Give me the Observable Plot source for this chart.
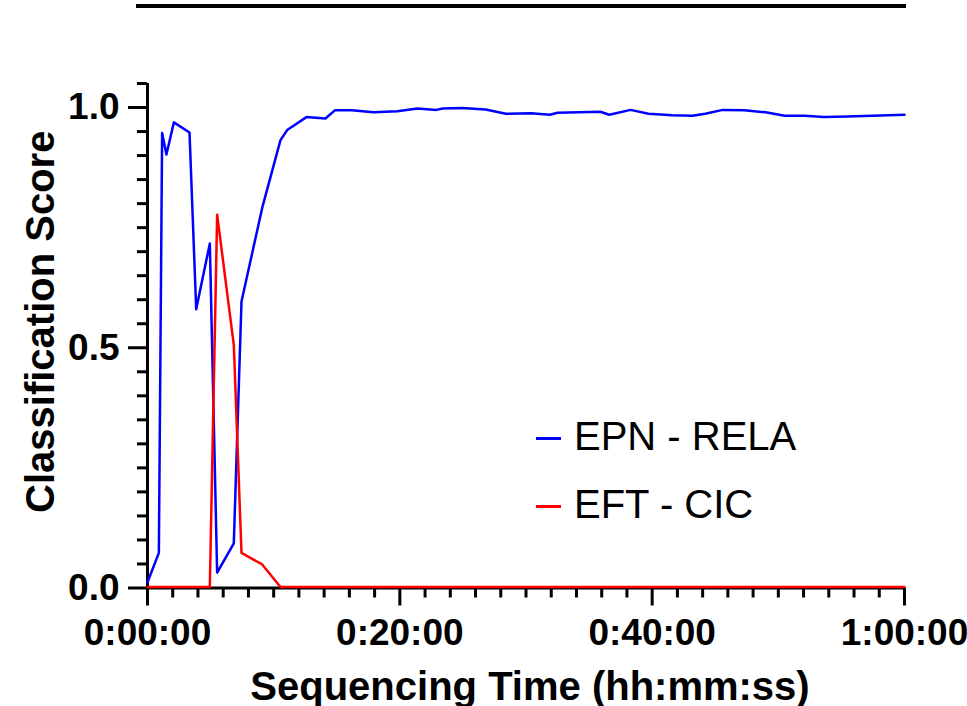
<!DOCTYPE html>
<html>
<head>
<meta charset="utf-8">
<script src="https://cdn.jsdelivr.net/npm/d3@7"></script>
<script src="https://cdn.jsdelivr.net/npm/@observablehq/plot@0.6"></script>
<style>
  body { margin: 0; background: white; }
  #wrap { position: relative; width: 967px; height: 706px; overflow: hidden; }
  #topline { position: absolute; left: 136px; top: 4px; width: 770px; height: 4px; background: black; }
  .leg { position: absolute; font-family: 'Liberation Sans', Arial, sans-serif; font-size: 40px; color: black; line-height: 1; white-space: nowrap; }
  .sw { position: absolute; width: 25px; height: 2.5px; }
</style>
</head>
<body>
<div id="wrap">
  <div id="chart"></div>
  <div id="topline"></div>
  <div id="legend"></div>
</div>
<script>
// Sequencing time in minutes
const times = [0, 0.9, 1.16, 1.5, 2.09, 3.33, 3.86, 4.94, 5.52, 6.84, 7.45, 9.09, 10.54, 11.07, 12.6, 14.1, 14.85, 16.2, 17.9, 19.8, 21.4, 22.9, 23.4, 24.94, 26.8, 28.4, 30.4, 31.9, 32.5, 35.9, 36.6, 38.3, 39.7, 41.6, 43.2, 44.2, 45.6, 47.3, 49.0, 50.5, 52.1, 53.6, 55.5, 60];
const epnRela = [0.01, 0.071, 0.945, 0.90, 0.967, 0.946, 0.578, 0.715, 0.030, 0.091, 0.594, 0.789, 0.930, 0.951, 0.978, 0.975, 0.992, 0.992, 0.988, 0.990, 0.996, 0.993, 0.996, 0.997, 0.994, 0.985, 0.986, 0.983, 0.987, 0.989, 0.983, 0.993, 0.985, 0.982, 0.981, 0.985, 0.993, 0.992, 0.988, 0.981, 0.981, 0.978, 0.979, 0.983];
const eftCic = [0, 0, 0, 0, 0, 0, 0, 0, 0.775, 0.504, 0.071, 0.047, 0, 0, 0, 0, 0, 0, 0, 0, 0, 0, 0, 0, 0, 0, 0, 0, 0, 0, 0, 0, 0, 0, 0, 0, 0, 0, 0, 0, 0, 0, 0, 0];
const seriesNames = ["EPN - RELA", "EFT - CIC"];
const seriesColors = ["#0000ff", "#ff0000"];

const majorX = [0, 20, 40, 60];
const minorX = d3.range(0, 61, 2).filter(d => d % 20 !== 0);
const majorY = [0, 0.5, 1.0];
const minorY = d3.range(0, 22).map(i => i / 20).filter(d => !majorY.some(m => Math.abs(m - d) < 1e-9));

const xLabel = "Sequencing Time (hh:mm:ss)";
const yLabel = "Classification Score";

const fmtTime = m => `${Math.floor(m / 60)}:${String(m % 60).padStart(2, "0")}:00`;

const rowsEPN = times.map((t, i) => ({t, v: epnRela[i]}));
const rowsEFT = times.map((t, i) => ({t, v: eftCic[i]}));

const font = "'Liberation Sans', Arial, Helvetica, sans-serif";

const chart = Plot.plot({
  width: 967,
  height: 706,
  marginLeft: 147,
  marginRight: 63,
  marginTop: 83,
  marginBottom: 118.5,
  x: {domain: [0, 60], label: null},
  y: {domain: [0, 1.05], label: null},
  style: {fontFamily: font, color: "black", background: "white", overflow: "visible"},
  marks: [
    Plot.axisX(minorX, {anchor: "bottom", tickSize: 10, strokeWidth: 3, tickFormat: () => "", label: null}),
    Plot.axisX(majorX, {anchor: "bottom", tickSize: 18, strokeWidth: 3, tickPadding: 13, tickFormat: fmtTime, fontSize: 37, fontWeight: "bold", label: null}),
    Plot.axisY(minorY, {anchor: "left", tickSize: 10, strokeWidth: 3, tickFormat: () => "", label: null}),
    Plot.axisY(majorY, {anchor: "left", tickSize: 19, strokeWidth: 3, tickPadding: 9, tickFormat: d3.format(".1f"), fontSize: 37, fontWeight: "bold", label: null}),
    Plot.ruleX([0], {y1: 0, y2: 1.05, stroke: "black", strokeWidth: 3}),
    Plot.ruleY([0], {x1: 0, x2: 60, stroke: "black", strokeWidth: 3}),
    Plot.line(rowsEPN, {x: "t", y: "v", stroke: seriesColors[0], strokeWidth: 2.5, dy: -1}),
    Plot.line(rowsEFT, {x: "t", y: "v", stroke: seriesColors[1], strokeWidth: 2.5, dy: -1}),
    Plot.text([xLabel], {frameAnchor: "bottom", textAnchor: "middle", lineAnchor: "middle", dy: 99, dx: 4, fontSize: 40, fontWeight: "bold", fill: "black"}),
    Plot.text([yLabel], {frameAnchor: "left", textAnchor: "middle", lineAnchor: "middle", rotate: -90, dx: -106, dy: -14, fontSize: 40, fontWeight: "bold", fill: "black"})
  ]
});
document.getElementById("chart").appendChild(chart);

// Legend (HTML overlay)
const legend = document.getElementById("legend");
const legRows = [438, 506];
seriesNames.forEach((name, i) => {
  const sw = document.createElement("div");
  sw.className = "sw";
  sw.style.left = "536px";
  sw.style.top = (legRows[i] - 1) + "px";
  sw.style.background = seriesColors[i];
  legend.appendChild(sw);
  const tx = document.createElement("div");
  tx.className = "leg";
  tx.textContent = name;
  tx.style.left = "574px";
  tx.style.top = (legRows[i] - 22) + "px";
  legend.appendChild(tx);
});
</script>
</body>
</html>
